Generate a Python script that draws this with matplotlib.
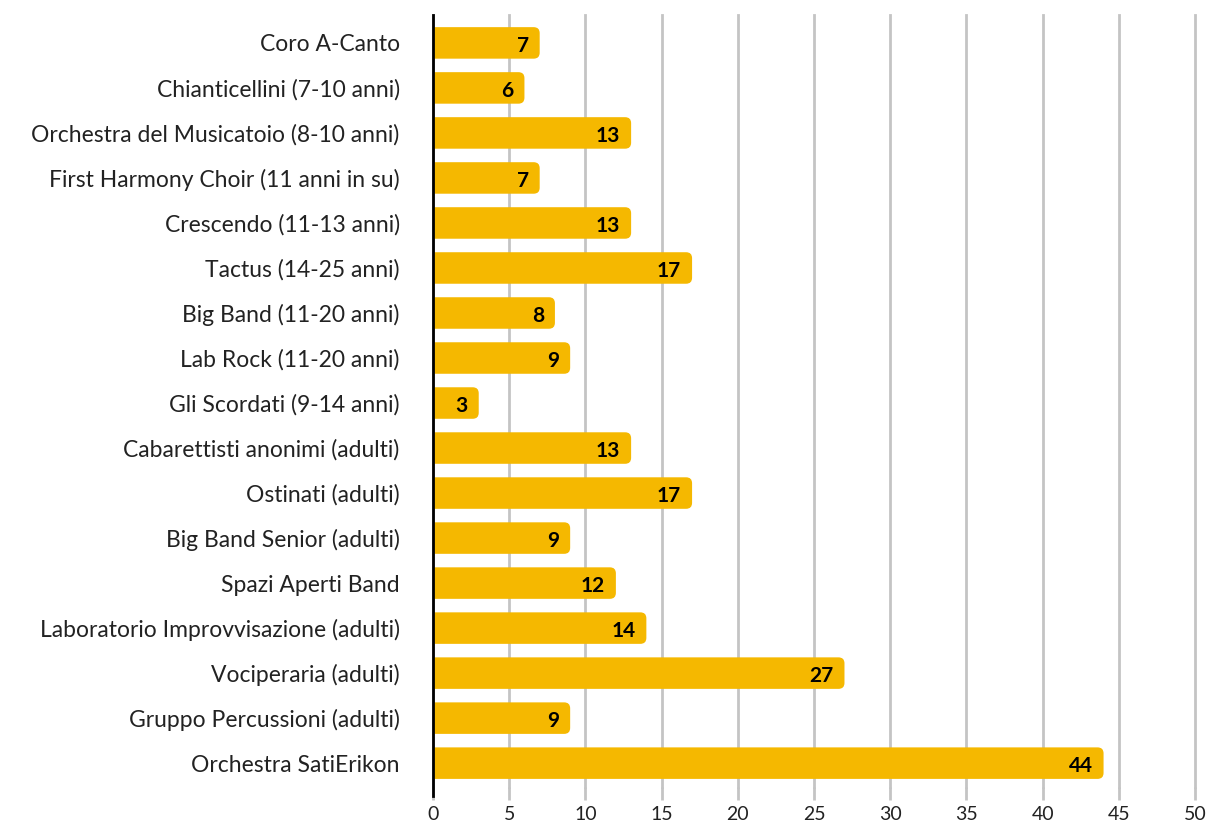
import matplotlib.pyplot as plt
from matplotlib.patches import FancyBboxPatch

# data
groups = ["Coro A-Canto", "Chianticellini (7-10 anni)", "Orchestra del Musicatoio (8-10 anni)",
          "First Harmony Choir (11 anni in su)", "Crescendo (11-13 anni)", "Tactus (14-25 anni)",
          "Big Band (11-20 anni)", "Lab Rock (11-20 anni)", "Gli Scordati (9-14 anni)",
          "Cabarettisti anonimi (adulti)", "Ostinati (adulti)", "Big Band Senior (adulti)",
          "Spazi Aperti Band", "Laboratorio Improvvisazione (adulti)", "Vociperaria (adulti)",
          "Gruppo Percussioni (adulti)", "Orchestra SatiErikon"]
members = [7, 6, 13, 7, 13, 17, 8, 9, 3, 13, 17, 9, 12, 14, 27, 9, 44]
xticks = list(range(0, 51, 5))

plt.rcParams['font.family'] = ['Lato', 'DejaVu Sans']

W, H = 1211, 830
fig = plt.figure(figsize=(W / 100, H / 100), dpi=100)
left, right, top, bottom = 433, 1195, 15, 787
ax = fig.add_axes([left / W, 1 - bottom / H, (right - left) / W, (bottom - top) / H])

ax.set_xlim(0, 50)
ax.set_ylim(16.53, -0.62)

bar_color = "#F5B800"
bar_h = 0.7
px_x = (right - left) / 50.0
px_y = (bottom - top) / (16.53 + 0.62)
r = 6 / px_x
aspect = (6 / px_y) / r

for i, v in enumerate(members):
    box = FancyBboxPatch((-1, i - bar_h / 2), v + 1, bar_h,
                         boxstyle=f"round,pad=0,rounding_size={r}",
                         mutation_aspect=aspect, fc=bar_color, ec="none", zorder=2)
    ax.add_patch(box)
    ax.text(v - 11 / px_x, i + 0.06, str(v), ha="right", va="center",
            fontsize=15, fontweight="bold", color="black", zorder=3)

ax.set_yticks(range(len(groups)))
ax.set_yticklabels(groups, fontsize=16.5, color="#222222")
ax.tick_params(axis="y", length=0, pad=24)
ax.set_xticks(xticks)
ax.set_xticklabels([str(t) for t in xticks], fontsize=14, color="#222222")
ax.tick_params(axis="x", length=9, width=2, color="#c4c4c4", pad=5)

ax.grid(axis="x", color="#c4c4c4", linewidth=2, zorder=1)
for gl in ax.get_xgridlines():
    gl.set_clip_on(False)
ax.set_axisbelow(True)
for s in ax.spines.values():
    s.set_visible(False)
ax.axvline(0, ymin=-0.012, ymax=1, color="black", linewidth=2, clip_on=False, zorder=4)

plt.savefig("out.png", dpi=100)
